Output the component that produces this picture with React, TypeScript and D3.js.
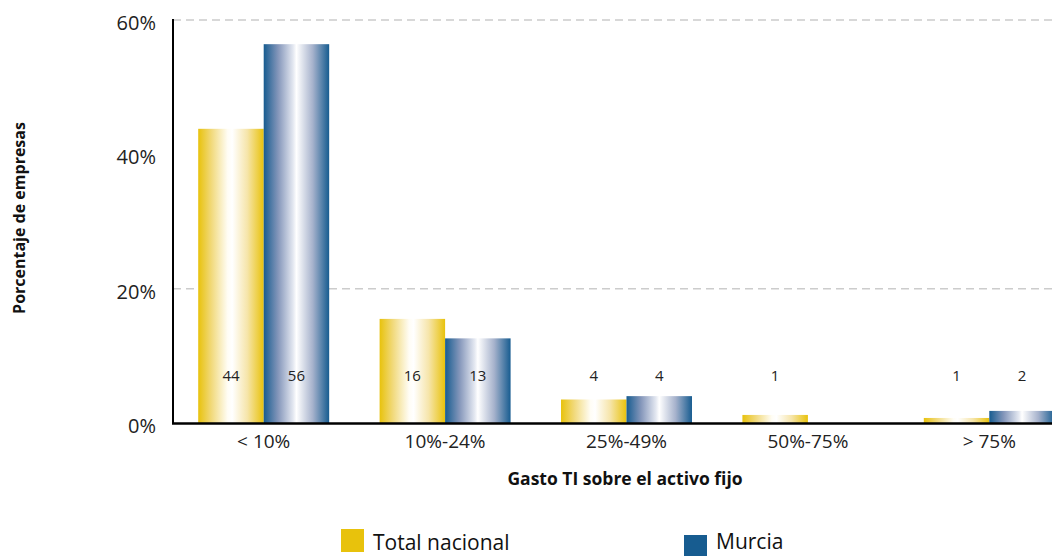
import React from "react";
import * as d3 from "d3";

const categories = ["< 10%", "10%-24%", "25%-49%", "50%-75%", "> 75%"];
const seriesNames = ["Total nacional", "Murcia"];
const totalNacional = [43.8, 15.5, 3.5, 1.2, 0.75];
const murcia = [56.4, 12.6, 4.0, 0, 1.8];
const totalLabels = ["44", "16", "4", "1", "1"];
const murciaLabels = ["56", "13", "4", "", "2"];
const yTicks = [0, 20, 40, 60];
const gridValues = [20, 60];
const colors = ["#E8C20C", "#175C90"];

const W = 1052;
const H = 556;
const FONT = "'Open Sans', 'DejaVu Sans', sans-serif";

export default function App() {
  const x0 = d3
    .scaleBand<string>()
    .domain(categories)
    .range([173, 1080])
    .paddingInner(0.278)
    .paddingOuter(0.139);
  const x1 = d3
    .scaleBand<number>()
    .domain([0, 1])
    .range([0, x0.bandwidth()]);
  const y = d3.scaleLinear().domain([0, 60]).range([423, 20]);

  const series = [
    { values: totalNacional, labels: totalLabels },
    { values: murcia, labels: murciaLabels },
  ];

  return (
    <svg
      width={W}
      height={H}
      style={{ position: "absolute", left: 0, top: 0, background: "#fff" }}
      fontFamily={FONT}
    >
      <defs>
        <linearGradient id="g0" x1="0" x2="1" y1="0" y2="0">
          <stop offset="0" stopColor={colors[0]} />
          <stop offset="0.2" stopColor="#F1D97A" />
          <stop offset="0.45" stopColor="#FFFDF5" />
          <stop offset="0.52" stopColor="#FFFFFF" />
          <stop offset="0.75" stopColor="#F6E5AA" />
          <stop offset="1" stopColor={colors[0]} />
        </linearGradient>
        <linearGradient id="g1" x1="0" x2="1" y1="0" y2="0">
          <stop offset="0" stopColor={colors[1]} />
          <stop offset="0.22" stopColor="#8496BA" />
          <stop offset="0.45" stopColor="#E4E8F1" />
          <stop offset="0.5" stopColor="#FFFFFF" />
          <stop offset="0.75" stopColor="#A6B2CC" />
          <stop offset="1" stopColor={colors[1]} />
        </linearGradient>
      </defs>

      {gridValues.map((v) => (
        <line
          key={v}
          x1={173}
          x2={W}
          y1={y(v)}
          y2={y(v)}
          stroke="#CCCCCC"
          strokeWidth={1.5}
          strokeDasharray="8,5"
        />
      ))}

      {categories.map((c, i) =>
        series.map((s, si) => {
          const v = s.values[i];
          const bx = (x0(c) ?? 0) + (x1(si) ?? 0);
          return (
            <rect
              key={c + si}
              x={bx}
              y={y(v)}
              width={x1.bandwidth()}
              height={y(0) - y(v)}
              fill={`url(#g${si})`}
            />
          );
        })
      )}

      {categories.map((c, i) =>
        series.map((s, si) => {
          const bx = (x0(c) ?? 0) + (x1(si) ?? 0) + x1.bandwidth() / 2;
          return (
            <text
              key={"l" + c + si}
              x={bx}
              y={381}
              textAnchor="middle"
              fontSize={15}
              fill="#222"
            >
              {s.labels[i]}
            </text>
          );
        })
      )}

      {/* axes */}
      <line x1={173} x2={173} y1={19} y2={424} stroke="#000" strokeWidth={2} />
      <line x1={172} x2={W} y1={423.5} y2={423.5} stroke="#000" strokeWidth={2.5} />

      {yTicks.map((t) => (
        <text
          key={t}
          x={156}
          y={y(t) + 3}
          dy="0.35em"
          textAnchor="end"
          fontSize={20}
          fill="#222"
        >
          {t}%
        </text>
      ))}

      {categories.map((c) => (
        <text
          key={"c" + c}
          x={(x0(c) ?? 0) + x0.bandwidth() / 2}
          y={448}
          textAnchor="middle"
          fontSize={19}
          fill="#222"
        >
          {c}
        </text>
      ))}

      <text
        x={625}
        y={485}
        textAnchor="middle"
        fontSize={17.5}
        fontWeight="bold"
        fill="#111"
      >
        Gasto TI sobre el activo fijo
      </text>

      <text
        transform="translate(25,218) rotate(-90)"
        textAnchor="middle"
        fontSize={16}
        fontWeight="bold"
        fill="#111"
      >
        Porcentaje de empresas
      </text>

      {/* legend */}
      <rect x={341} y={529} width={23} height={23} fill={colors[0]} />
      <text x={373} y={550} fontSize={21} fill="#111">
        {seriesNames[0]}
      </text>
      <rect x={684} y={535} width={23} height={23} fill={colors[1]} />
      <text x={716} y={549} fontSize={21} fill="#111">
        {seriesNames[1]}
      </text>
    </svg>
  );
}
